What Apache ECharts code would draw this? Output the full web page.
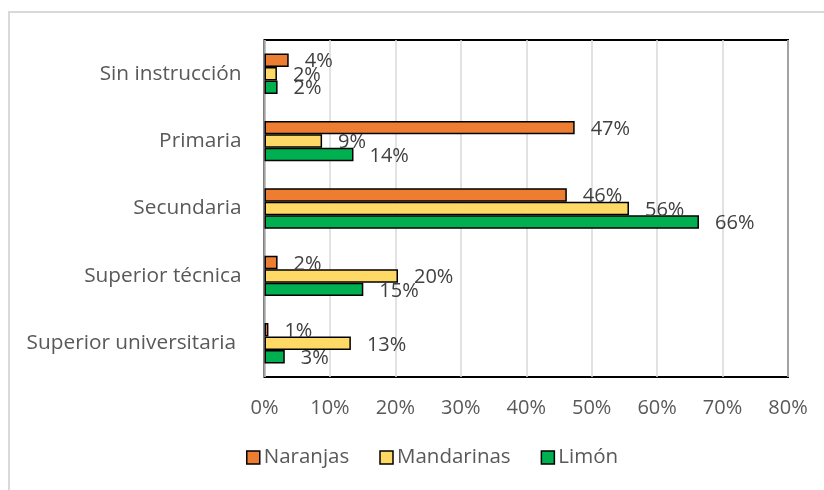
<!DOCTYPE html>
<html>
<head>
<meta charset="utf-8">
<script src="https://cdn.jsdelivr.net/npm/echarts@6/dist/echarts.min.js"></script>
<style>
  html, body { margin: 0; padding: 0; background: #fff; }
  #myChart { width: 824px; height: 490px; }
</style>
</head>
<body>
<div id="myChart"></div>
<script>
// categories, top to bottom
var categorias = ['Sin instrucción', 'Primaria', 'Secundaria', 'Superior técnica', 'Superior universitaria ']
// values, in %
var naranjas = [3.7, 47.4, 46.2, 2.0, 0.6]
var mandarinas = [1.9, 8.8, 55.7, 20.4, 13.2]
var limon = [2.0, 13.6, 66.4, 15.1, 3.1]
var ejeX = { min: 0, max: 80, interval: 10 }

var fuente = "'Open Sans', sans-serif"

function serie(nombre, datos, color) {
    return {
        name: nombre,
        type: 'bar',
        data: datos,
        barGap: '0%',
        barCategoryGap: '40%',
        itemStyle: { color: color, borderColor: '#000', borderWidth: 1.5 },
        label: {
            show: true,
            position: 'right',
            distance: 16,
            offset: [0, 1.5],
            color: '#404040',
            fontFamily: fuente,
            fontSize: 20,
            formatter: function (p) { return Math.round(p.value) + '%' }
        }
    }
}

var myEchart = echarts.init(document.getElementById('myChart'))
myEchart.setOption({
    animation: false,
    textStyle: { fontFamily: fuente },
    graphic: [{
        type: 'rect',
        shape: { x: 9, y: 12, width: 900, height: 600 },
        style: { fill: 'none', stroke: '#D9D9D9', lineWidth: 2 },
        silent: true
    }],
    legend: {
        data: ['Naranjas', 'Mandarinas', 'Limón'],
        bottom: 17,
        left: 241,
        itemWidth: 13,
        itemHeight: 13,
        itemGap: 30,
        icon: 'rect',
        itemStyle: { borderColor: '#000', borderWidth: 1.5 },
        textStyle: { color: '#595959', fontSize: 20.5, fontFamily: fuente, padding: [0, 0, 0, -1] }
    },
    grid: {
        left: 264.5,
        right: 36,
        top: 40,
        bottom: 113,
        show: true,
        borderColor: '#000',
        borderWidth: 2,
        containLabel: false
    },
    xAxis: {
        type: 'value',
        min: ejeX.min,
        max: ejeX.max,
        interval: ejeX.interval,
        axisLine: { show: false },
        axisTick: { show: false },
        splitLine: { lineStyle: { color: '#D9D9D9', width: 1.5 } },
        axisLabel: { formatter: '{value}%', color: '#595959', fontSize: 20, margin: 21 }
    },
    yAxis: {
        type: 'category',
        data: categorias,
        inverse: true,
        axisLine: { show: false },
        axisTick: { show: false },
        axisLabel: { color: '#595959', fontSize: 20.8, margin: 23 }
    },
    series: [
        serie('Naranjas', naranjas, '#ED7D31'),
        serie('Mandarinas', mandarinas, '#FFD966'),
        serie('Limón', limon, '#00B050')
    ]
})
window.addEventListener('resize', function () {
    myEchart.resize();
});
</script>
</body>
</html>
